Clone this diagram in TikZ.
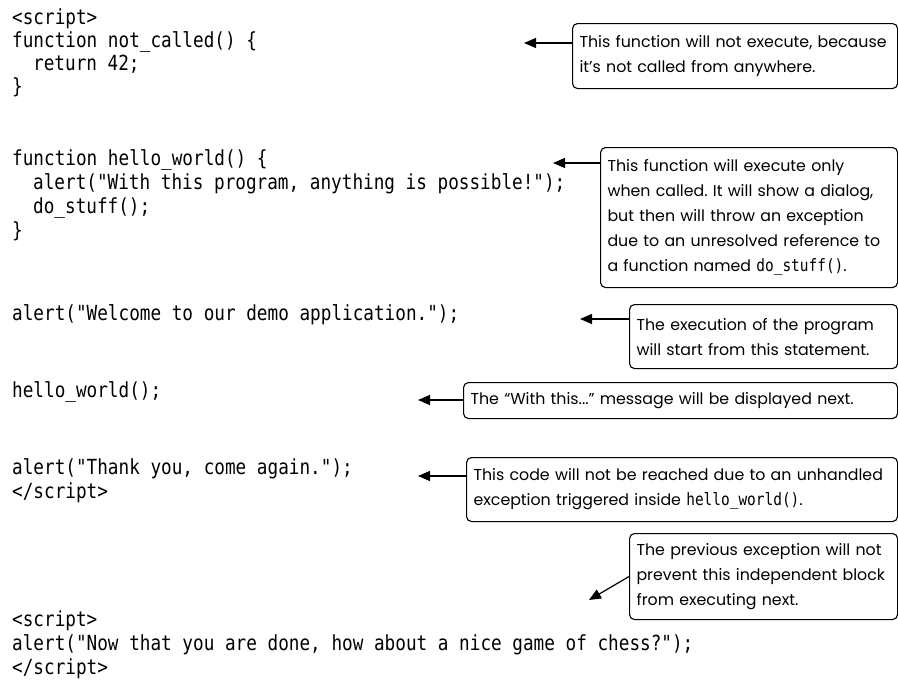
\documentclass[tikz,border=0pt]{standalone}
\usepackage{fontspec}
\usetikzlibrary{arrows.meta}
\newfontfamily\codefont[FakeStretch=0.85]{DejaVu Sans Mono}
\newfontfamily\notefont{Poppins}
\newcommand{\inlinecode}[1]{{\codefont\fontsize{17}{25}\selectfont #1}}

\begin{document}
\begin{tikzpicture}[x=1pt, y=-1pt,
    code/.style={anchor=mid west, inner sep=0pt, font=\codefont\fontsize{20.8}{24}\selectfont},
    note/.style={draw, line width=1.1pt, rounded corners=5pt, anchor=north west, align=left,
      inner xsep=7pt, inner ysep=0pt, font=\notefont\fontsize{15.8}{25}\selectfont\frenchspacing},
    pointer/.style={line width=1.2pt, -{Triangle[length=12pt,width=10pt]}}]
  \useasboundingbox (0,0) rectangle (898,683);

  % Code listing
  \node[code] (open1) at (12,22) {<script>};
  \node[code] (notcalled) at (12,45) {function not\_called() \{};
  \node[code] (ret) at (33,68) {return 42;};
  \node[code] (close1) at (12,91) {\}};
  \node[code] (hello) at (12,163) {function hello\_world() \{};
  \node[code] (alertwith) at (33,187) {alert("With this program, anything is possible!");};
  \node[code] (dostuff) at (33,211) {do\_stuff();};
  \node[code] (close2) at (12,235) {\}};
  \node[code] (welcome) at (12,318) {alert("Welcome to our demo application.");};
  \node[code] (callhello) at (12,395) {hello\_world();};
  \node[code] (thanks) at (12,472) {alert("Thank you, come again.");};
  \node[code] (end1) at (12,496) {</script>};
  \node[code] (open2) at (12,624) {<script>};
  \node[code] (chess) at (12,648) {alert("Now that you are done, how about a nice game of chess?");};
  \node[code] (end2) at (12,672) {</script>};

  % Callouts
  \node[note, text width=311pt, minimum height=65pt] (notcallednote) at (572,23)
    {This function will not execute, because\\it’s not called from anywhere.};
  \node[note, text width=283pt, minimum height=140pt] (hellonote) at (600,147)
    {This function will execute only\\when called. It will show a dialog,\\but then will throw an exception\\due to an unresolved reference to\\a function named \inlinecode{do\_stuff()}.};
  \node[note, text width=254pt, minimum height=64pt] (startnote) at (629,304)
    {The execution of the program\\will start from this statement.};
  \node[note, text width=420pt, minimum height=36pt] (nextnote) at (463,382)
    {The “With this...” message will be displayed next.};
  \node[note, text width=417pt, minimum height=64pt] (unreachednote) at (466,457)
    {This code will not be reached due to an unhandled\\exception triggered inside \inlinecode{hello\_world()}.};
  \node[note, text width=254pt, minimum height=86pt] (blocknote) at (629,533)
    {The previous exception will not\\prevent this independent block\\from executing next.};

  % Arrow tips
  \coordinate (tip1) at (524,43);
  \coordinate (tip2) at (553,163);
  \coordinate (tip3) at (580,319);
  \coordinate (tip4) at (418,400);
  \coordinate (tip5) at (418,476);
  \coordinate (tip6) at (589,600);

  \draw[pointer] (notcallednote.west |- tip1) -- (tip1);
  \draw[pointer] (hellonote.west |- tip2) -- (tip2);
  \draw[pointer] (startnote.west |- tip3) -- (tip3);
  \draw[pointer] (nextnote.west |- tip4) -- (tip4);
  \draw[pointer] (unreachednote.west |- tip5) -- (tip5);
  \draw[pointer] (blocknote.west) -- (tip6);
\end{tikzpicture}
\end{document}
